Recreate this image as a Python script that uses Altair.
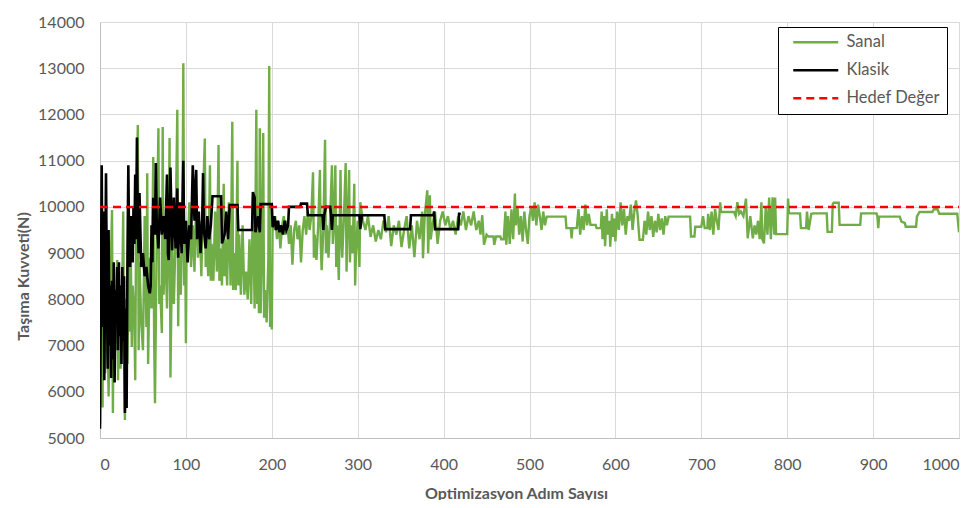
import altair as alt
import pandas as pd

# ---- data ----
sanal_a = [(0,5300),(1,9300),(2,7400),(3,5660),(4,9220),(6,6400),(8,8500),(10,5900),(12,8200),(14,9930),
           (15,5540),(16,8000),(18,6900),(20,8850),(21,6250),(22,7800),(24,6500),(26,8400),(27,9900),(28,7200),
           (29,5390),(30,8000),(32,6600),(33,9100),(34,7300),(36,8800),(37,6970),(38,8300),(40,7600),(41,6250),
           (42,9500),(44,11770),(45,6900),(46,8800),(48,7500),(50,6900),(52,9800),(54,7400),(55,10730),(56,6600),
           (58,8900),(60,7800),(62,11080),(63,7200),(64,5750),(66,9200),(68,11700),(69,7900),(70,8300),(72,7270),
           (73,11730),(74,8100),(76,9300),(78,7800),(80,9600),(81,11490),(82,6310),(84,9200),(86,7900),(88,9400),
           (90,12100),(91,7420),(92,9000),(94,8100),(96,9700),(97,13110),(98,8300),(99,9700)]
sanal_b = [(100,7050),(101,9500),(102,8900),(104,10100),(106,8700),(108,9600),(110,8600),(112,10300),(114,8900),
           (116,9700),(118,8500),(120,10200),(122,11480),(123,8700),(124,9400),(126,8500),(128,10900),(129,8400),
           (130,9200),(132,8400),(134,9900),(136,8600),(138,11340),(139,8400),(140,9100),(142,8300),(144,10500),
           (145,8500),(146,9300),(148,8300),(150,10100),(152,8300),(154,11840),(155,8200),(156,9000),(158,8200),
           (160,11000),(161,8300),(162,9400),(164,8100),(166,9600),(168,8100),(170,8600),(172,8000),(174,9300),
           (176,7900),(178,10200),(180,7800),(182,12100),(183,7900),(184,10000),(185,7700),(186,11700),(187,7700),
           (188,8600),(190,11600),(191,7600),(192,8200),(194,7500),(196,8900),(197,13050),(198,7400),(199,8000)]
sanal_c = [(200,7350),(201,9700),(202,9500),(204,9800),(206,9300),(208,9700),(210,9100),(212,9600),(214,9800),
           (216,9400),(218,9700),(220,9200),(222,9600),(224,8750),(226,9500),(228,9700),(230,9300),(232,9600),
           (234,8800),(236,9500),(238,9800),(240,9400),(242,9900),(244,9500),(246,9800),(248,10750),(249,8900),
           (250,9400),(252,8850),(254,9600),(256,10800),(257,9200),(258,8630),(260,9500),(262,11450),(263,9000),
           (264,9600),(266,8900),(268,9800),(270,10900),(271,9200),(272,9500),(274,10900),(275,8700),(276,9600),
           (278,8420),(280,10800),(281,9300),(282,8900),(284,9800),(286,10950),(287,8600),(288,9400),(290,10800),
           (291,8800),(292,9600),(294,9000),(296,10500),(297,8300),(298,9000)]
sanal_d = [(300,9700),(302,8700),(303,10100),(306,9700),(309,9500),(312,9800),(315,9350),(318,9600),(321,9250),
           (324,9500),(327,9300),(330,9700),(333,9450),(336,9800),(339,9150),(342,9600),(345,9400),(348,9700),
           (351,9130),(354,9500),(357,9800),(360,9100),(363,9600),(366,8910),(369,9700),(372,9300),(375,9900),
           (376,8890),(378,9800),(381,10360),(382,9000),(384,10250),(385,9300),(387,9600),(390,9900),(393,9200),
           (396,9700),(399,9900),(402,9600),(405,9800),(408,9500),(411,9700),(414,9400),(417,9800),(420,9600),
           (423,9900),(426,9500),(429,9800),(432,9600),(435,9900),(438,9500),(441,9700),(443,9400),(445,9820),
           (447,9180)]
sanal_e = [(450,9400),(452,9360),(458,9360),(459,9180),(461,9360),(466,9360),(467,9300),(470,9300),(472,9900),
           (473,9180),(475,9800),(477,9200),(479,9950),(481,9300),(483,10290),(484,9600),(486,10000),(488,9400),
           (490,9800),(492,9250),(494,9900),(496,9500),(498,9200),(500,9800),(502,10000),(504,9700),(506,10100),
           (508,9600),(510,10050),(512,9800),(514,9500),(516,9900),(518,9600),(520,9790),(542,9790),(543,9540),
           (548,9540),(549,9320),(550,9540),(555,9540),(557,9950),(559,9400),(561,9800),(563,9500),(565,10050),
           (567,9600),(569,9850),(571,9610),(577,9610),(578,9540),(583,9540),(584,9900),(585,9300),(587,9800),
           (588,9150),(590,9950),(591,9400),(593,9700),(594,9140),(596,9850),(597,9350),(599,9750),(600,9250),
           (602,9900),(604,9500),(606,10100),(608,9600),(610,9950),(612,9400),(614,9800),(616,9700),(618,10050),
           (620,9500),(622,9900),(624,10140),(626,9800),(628,9290),(632,9290),(634,9700),(636,9400),(638,9900),
           (640,9500),(642,9800),(644,9350),(646,9700),(648,9450),(650,9850),(652,9500),(654,9750),(656,9400),
           (658,9800),(660,9600),(662,9790),(687,9790),(688,9360),(692,9360),(693,9570),(700,9570)]
sanal_f = [(702,9800),(704,9540),(707,9540),(708,9850),(710,9500),(712,9900),(714,9400),(716,9950),(718,9700),
           (720,9500),(722,10100),(723,9890),(738,9890),(740,9800),(742,10100),(744,9850),(746,9900),(749,9800),
           (752,10180),(754,9320),(757,9800),(760,9320),(762,9600),(764,9400),(766,9700),(768,9300),(770,10100),
           (771,9300),(773,9210),(775,10000),(777,9400),(779,10200),(781,9300),(783,10210),(785,9400),(786,10200),
           (787,9410),(800,9410),(801,10180),(802,9860),(815,9860),(816,9540),(822,9540),(823,9900),(825,9500),
           (828,9850),(831,9860),(846,9860),(847,9460),(852,9460),(853,10060),(854,10090),(860,10090),(861,9610),
           (885,9610),(886,9860),(904,9860),(905,9790),(906,9540),(907,9790),(931,9790),(933,9680),(937,9650),
           (938,9570),(950,9570),(951,9790),(954,9890),(969,9890),(971,9950),(975,9950),(977,9850),(998,9850),
           (1000,9450)]

klasik_a = [(0,5200),(2,10900),(3,7400),(4,9900),(5,6250),(7,10730),(8,8200),(9,6500),(10,9500),(11,7000),
            (12,8300),(13,6300),(14,8400),(15,6700),(16,8800),(17,6200),(18,8200),(19,7500),(20,8700),(21,6900),
            (22,8800),(23,7200),(24,8300),(25,6600),(26,8700),(27,7100),(28,8500),(29,5540),(30,7800),(31,5650),
            (32,9000),(33,10900),(34,8900),(35,8700),(36,9800),(37,9000),(38,8800),(39,10000),(40,9200),(41,10700),
            (42,9300),(43,11500),(44,9600),(45,9000),(46,10300),(48,8700),(50,9000),(52,8500),(54,8700),(56,8300),
            (58,8130),(59,8300),(60,9600),(61,8800),(62,10200),(64,9400),(65,10950),(66,9700),(68,9100),(70,10200),
            (72,9400),(74,9800),(76,9300),(78,10700),(79,9000),(80,8850),(81,9800),(82,10850),(84,9060),(86,10200),
            (88,9100),(90,10400),(91,8900),(93,10100),(95,9000),(97,11000),(98,9200)]
klasik_b = [(100,9700),(102,8800),(104,9600),(106,9300),(108,10900),(110,9700),(112,10800),(113,9300),(115,9900),
            (117,9000),(119,9700),(120,10730),(121,9500),(123,9100),(125,9800),(127,9300),(129,9600),(131,10230),
            (141,10230),(142,9210),(145,9400),(147,9900),(149,9300),(151,10040),(160,10040),(161,9500),(177,9500),
            (178,10320),(180,10200),(181,9450),(184,9800),(186,9450),(187,10060),(200,10060)]
klasik_c = [(201,9560),(203,9800),(205,9500),(207,9700),(209,9450),(211,9600),(213,9400),(215,9700),(217,9500),
            (219,9600),(220,10000),(233,10000),(234,10070),(241,10070),(242,9820),(259,9820),(260,9500),(261,9820),
            (263,10000),(268,10000),(269,9820),(270,9500),(271,9820),(302,9820),(303,9520),(305,9820),(331,9820),
            (332,9520),(361,9520),(362,9820),(388,9820),(389,9900),(390,9520),(417,9520),(418,9850),(420,9850)]

hedef = [(0,10000),(1000,10000)]

series_names = ["Sanal", "Klasik", "Hedef Değer"]
series_colors = ["#70AD47", "#000000", "#FF0000"]
series_dash = [[1, 0], [1, 0], [8, 5]]
x_ticks = list(range(0, 1001, 100))
y_ticks = list(range(5000, 14001, 1000))


def frame(points, name):
    return pd.DataFrame({"x": [p[0] for p in points], "y": [p[1] for p in points],
                         "i": list(range(len(points))), "series": name})


df_s = frame(sanal_a + sanal_b + sanal_c + sanal_d + sanal_e + sanal_f, "Sanal")
df_k = frame(klasik_a + klasik_b + klasik_c, "Klasik")
df_h = frame(hedef, "Hedef Değer")

FONT = "Lato"
GREY = "#595959"

x_enc = alt.X("x:Q", scale=alt.Scale(domain=[0, 1000], nice=False),
              axis=alt.Axis(values=x_ticks, format="d", title="Optimizasyon Adım Sayısı", ticks=False,
                            labelPadding=18, titleX=416, titleY=55, titleBaseline="middle",
                            titleAnchor="start", titleAlign="center"))
y_enc = alt.Y("y:Q", scale=alt.Scale(domain=[5000, 14000], nice=False, zero=False),
              axis=alt.Axis(values=y_ticks, format="d", title="Taşıma Kuvveti(N)", ticks=False,
                            labelPadding=16, titleX=-77, titleY=254, titleBaseline="middle",
                            titleAlign="center", titleAngle=-90))
color_enc = alt.Color("series:N", scale=alt.Scale(domain=series_names, range=series_colors),
                      legend=alt.Legend(title=None))
dash_enc = alt.StrokeDash("series:N", scale=alt.Scale(domain=series_names, range=series_dash),
                          legend=alt.Legend(title=None))


def layer(df, width):
    return alt.Chart(df).mark_line(strokeWidth=width, clip=True).encode(
        x=x_enc, y=y_enc, color=color_enc, strokeDash=dash_enc, order=alt.Order("i:Q"))


chart = alt.layer(
    layer(df_s, 2.4), layer(df_k, 2.6), layer(df_h, 2.5)
).properties(
    width=859, height=416,
    autosize=alt.AutoSizeParams(type="none"),
    padding={"left": 92, "top": 14, "right": 12, "bottom": 62},
).configure_view(stroke=None).configure_axis(
    grid=True, gridColor="#d9d9d9", gridWidth=1, domainColor="#bfbfbf",
    labelFont=FONT, labelFontSize=16, labelColor=GREY,
    titleFont=FONT, titleFontSize=16, titleFontWeight="bold", titleColor=GREY,
).configure_legend(
    orient="none", legendX=678, legendY=5, strokeColor="black", fillColor="white",
    padding=7, symbolType="M0,0H15", symbolSize=36, symbolStrokeWidth=2.5,
    labelFont=FONT, labelFontSize=16.5, labelColor=GREY, labelOffset=45, rowPadding=11,
)

chart.save("out.html", embed_options={"renderer": "svg", "actions": False})
